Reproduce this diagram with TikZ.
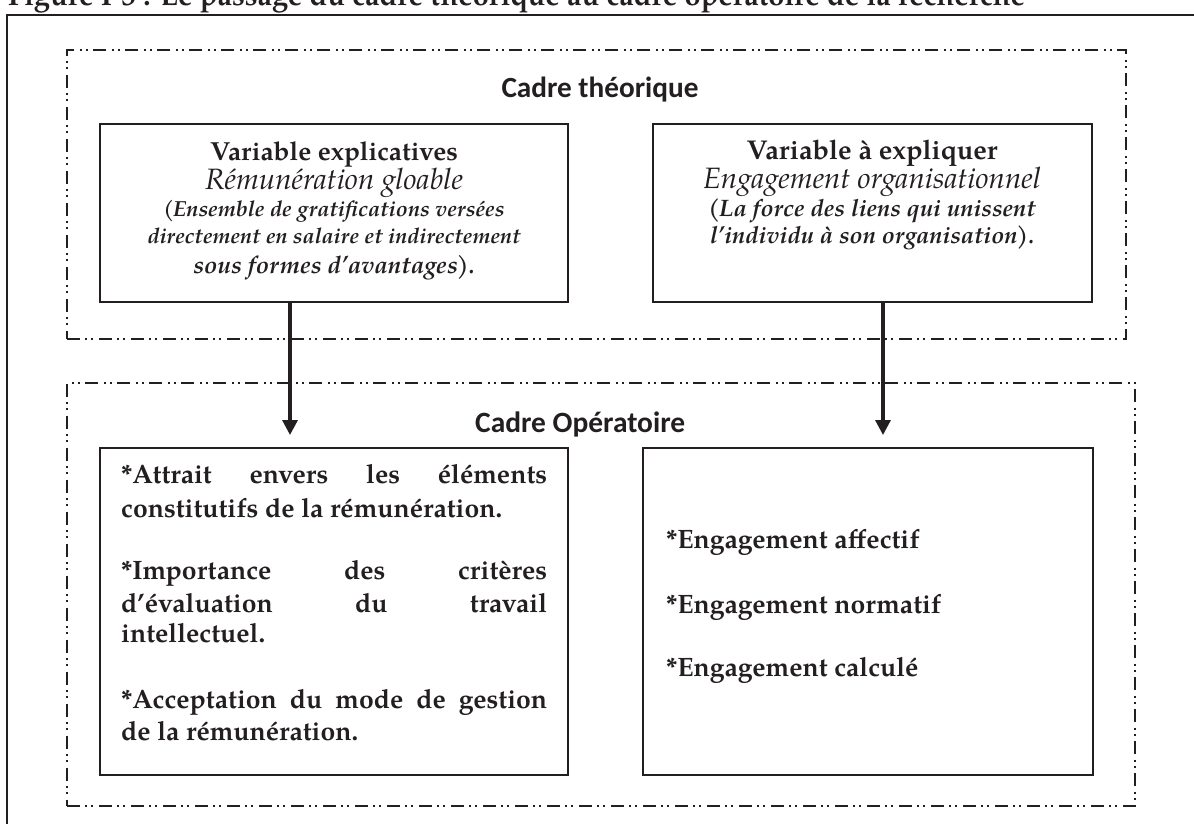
\documentclass[tikz,border=0pt]{standalone}
\usepackage{fontspec}
\newfontfamily\cadrefont{Carlito}
\IfFontExistsTF{TeX Gyre Pagella}
  {\newfontfamily\pal{TeX Gyre Pagella}}
  {\newfontfamily\pal{Liberation Serif}}
\usetikzlibrary{arrows.meta}
\definecolor{ink}{HTML}{231F20}
\newlength\fitlen
% set text #3 in font #2 at the size that makes it #1 pt wide
\newcommand\fitto[3]{\settowidth\fitlen{#2\fontsize{10}{12}\selectfont #3}%
  \pgfmathsetmacro\fitfs{10*#1/\fitlen}#2\fontsize{\fitfs}{\fitfs}\selectfont #3}
\newcommand\jline[2]{\makebox[#1][s]{#2}}
\tikzset{
  dashbox/.style={draw=ink, line width=1.6pt, dash pattern=on 13pt off 5pt on 2pt off 4pt on 2pt off 6pt, minimum width=#1},
  solidbox/.style={draw=ink, line width=2.6pt},
  ln/.style={anchor=base, inner sep=0pt, text=ink},
  lnw/.style={anchor=base west, inner sep=0pt, text=ink},
  arr/.style={draw=ink, line width=3.2pt, -{Triangle[width=15pt,length=15pt]}},
  low/.style={lnw, font=\lowfont},
}
\begin{document}
\settowidth\fitlen{\pal\bfseries\fontsize{10}{12}\selectfont constitutifs de la rémunération.}%
\pgfmathsetmacro\lowfs{10*381/\fitlen}%
\newcommand\lowfont{\pal\bfseries\fontsize{\lowfs}{\lowfs}\selectfont}%
\begin{tikzpicture}[x=1pt,y=-1pt]
\useasboundingbox (0,0) rectangle (1194,823);
\clip (0,0) rectangle (1194,823);
% cut-off title
\node[lnw] (title) at (8,5) {\fitto{1017}{\pal\bfseries}{Figure I-3 : Le passage du cadre théorique au cadre opératoire de la recherche}};
% outer frame
\draw[ink, line width=2.8pt] (7,1000) -- (7,15) -- (1300,15);
% dashed frames
\node[dashbox=1059pt, minimum height=289pt] (theo) at (596.5,194.5) {};
\node[dashbox=1068pt, minimum height=423pt] (oper) at (601,594.5) {};
\node[ln] (theoT) at (600,97) {\fitto{197}{\cadrefont\bfseries}{Cadre théorique}};
\node[lnw] (operT) at (475,432) {\fitto{210}{\cadrefont\bfseries}{Cadre Opératoire}};
% upper boxes
\node[solidbox, minimum width=468pt, minimum height=178pt] (vexp) at (334,213) {};
\node[solidbox, minimum width=439pt, minimum height=178pt] (vexq) at (872.5,213) {};
\node[ln] (e1) at (334,160) {\fitto{248}{\pal\bfseries}{Variable explicatives}};
\node[ln] (e2) at (334,189) {\fitto{258}{\pal\itshape}{Rémunération gloable}};
\node[ln] (e3) at (334,216.5) {\fitto{340}{\pal\bfseries\itshape}{(\kern-1pt Ensemble de gratifications versées}};
\node[ln] (e4) at (334,243.5) {\fitto{373}{\pal\bfseries\itshape}{directement en salaire et indirectement}};
\node[ln] (e5) at (334,273) {\fitto{280}{\pal\bfseries\itshape}{sous formes d’avantages\kern-1pt).}};
\node[ln] (q1) at (872,159) {\fitto{251}{\pal\bfseries}{Variable à expliquer}};
\node[ln] (q2) at (872,188) {\fitto{338}{\pal\itshape}{Engagement organisationnel}};
\node[ln] (q3) at (872,216.5) {\fitto{326}{\pal\bfseries\itshape}{(\kern-1pt La force des liens qui unissent}};
\node[ln] (q4) at (872,243.5) {\fitto{323}{\pal\bfseries\itshape}{l’individu à son organisation\kern-1pt).}};
% lower boxes
\node[solidbox, minimum width=468pt, minimum height=327pt] (dimE) at (334,611.5) {};
\node[solidbox, minimum width=450pt, minimum height=327pt] (dimQ) at (868,611.5) {};
\node[low] (d1) at (121,483) {\jline{426pt}{*Attrait envers les éléments}};
\node[low] (d2) at (121,517) {constitutifs de la rémunération.};
\node[low] (d3) at (121,579) {\jline{426pt}{*Importance des critères}};
\node[low] (d4) at (121,612) {\jline{426pt}{d’évaluation du travail}};
\node[low] (d5) at (121,642) {intellectuel.};
\node[low] (d6) at (121,708) {\jline{426pt}{*Acceptation du mode de gestion}};
\node[low] (d7) at (121,740) {de la rémunération.};
\node[low] (g1) at (666,548) {*Engagement affectif};
\node[low] (g2) at (666,613) {*Engagement normatif};
\node[low] (g3) at (666,676) {*Engagement calculé};
% arrows
\coordinate (tipE) at (290,435);
\coordinate (tipQ) at (883,435);
\draw[arr] (vexp.south -| tipE) -- (tipE);
\draw[arr] (vexq.south -| tipQ) -- (tipQ);
\end{tikzpicture}
\end{document}
